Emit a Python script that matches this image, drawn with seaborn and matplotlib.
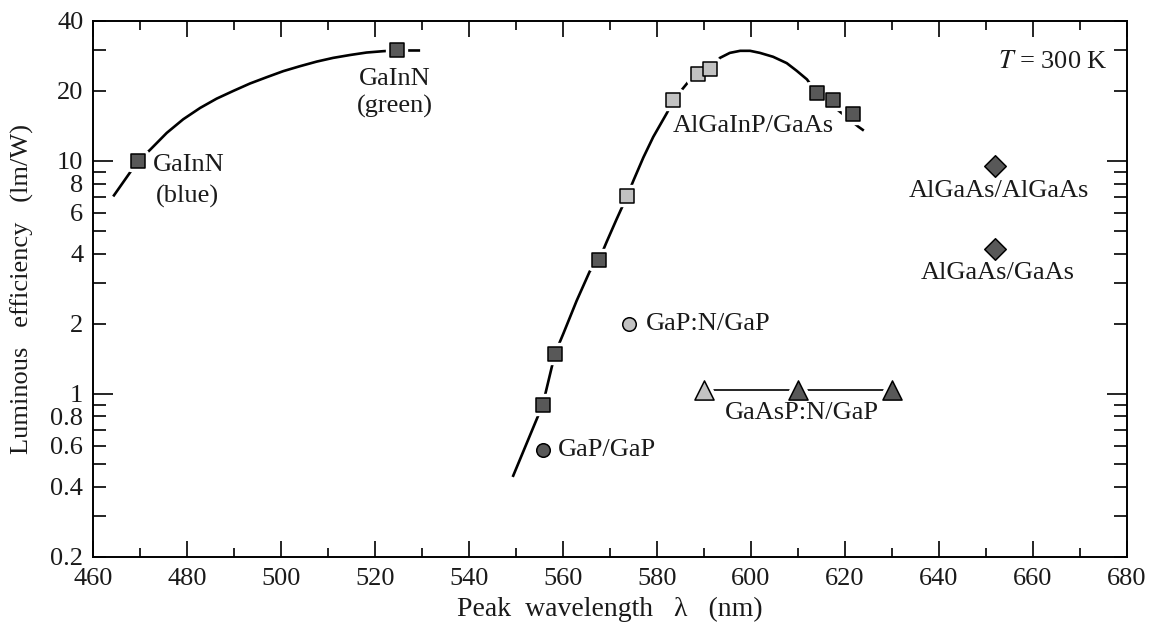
import matplotlib
matplotlib.use("Agg")
import matplotlib.pyplot as plt
import seaborn as sns
from matplotlib.ticker import FixedLocator, FixedFormatter, MultipleLocator

# ---------------- data ----------------
gainn_curve_x = [464.3, 469.6, 472.1, 475.7, 479.2, 482.8, 486.3, 489.9, 493.4, 497.0,
                 500.5, 504.0, 507.6, 511.1, 514.7, 518.2, 521.8, 524.6, 529.6]
gainn_curve_y = [7.04, 10.0, 11.14, 13.2, 15.1, 16.89, 18.51, 20.0, 21.5, 22.9,
                 24.3, 25.5, 26.7, 27.7, 28.5, 29.2, 29.6, 29.8, 29.8]

main_curve_x = [549.3, 555.7, 558.3, 560.1, 562.9, 565.7, 567.7, 569.3, 571.4,
                573.6, 575.0, 577.1, 579.2, 582.1, 583.5, 586.7, 588.7, 591.3, 593.4,
                595.5, 597.7, 599.8, 601.9, 604.7, 607.6, 609.7, 611.9, 614.0, 622.9,
                624.0]
main_curve_y = [0.44, 0.90, 1.49, 1.82, 2.51, 3.36, 3.77, 4.5, 5.62,
                7.04, 8.25, 10.35, 12.68, 16.05, 18.26, 21.9, 23.7, 24.8, 27.7,
                29.1, 29.7, 29.7, 29.1, 28.0, 26.3, 24.4, 22.4, 19.6, 14.0,
                13.5]

sq_dark_x = [469.6, 524.6, 555.7, 558.3, 567.7, 614.0, 617.4, 621.6]
sq_dark_y = [10.0, 29.8, 0.90, 1.49, 3.77, 19.6, 18.3, 15.9]
sq_light_x = [573.6, 583.5, 588.7, 591.3]
sq_light_y = [7.04, 18.26, 23.7, 24.8]

circ_light_x = [574.0]
circ_light_y = [2.0]
circ_dark_x = [555.7]
circ_dark_y = [0.575]

tri_x = [590, 610, 630]
tri_y = [1.04, 1.04, 1.04]
tri_shade = ["light", "dark", "dark"]

diam_x = [652, 652]
diam_y = [9.5, 4.2]

labels = ["GaInN", "(blue)", "GaInN", "(green)", "AlGaInP/GaAs", "GaP:N/GaP",
          "GaP/GaP", "GaAsP:N/GaP", "AlGaAs/AlGaAs", "AlGaAs/GaAs"]
label_x = [472.8, 480.1, 524.3, 524.3, 600.4, 577.7, 558.9, 610.8, 652.7, 652.5]
label_y = [9.6, 7.04, 22.5, 17.1, 14.1, 2.0, 0.575, 0.828, 7.4, 3.3]
label_ha = ["left", "center", "center", "center", "center", "left", "left",
            "center", "center", "center"]

x_ticks = [460, 480, 500, 520, 540, 560, 580, 600, 620, 640, 660, 680]
y_label_ticks = [0.2, 0.4, 0.6, 0.8, 2, 4, 6, 8, 20, 40]
y_label_text = ["0.2", "0.4", "0.6", "0.8", "2", "4", "6", "8", "20", "40"]
y_minor_unlabeled = [0.3, 0.5, 0.7, 0.9, 3, 5, 7, 9, 30]
y_decades = [1, 10]

DARK = "#585858"
LIGHT = "#c2c2c2"
TXT = "#1a1a1a"

# ---------------- style ----------------
sns.set_theme(style="ticks")
plt.rcParams["font.family"] = ["Liberation Serif", "DejaVu Serif"]
plt.rcParams["mathtext.fontset"] = "stix"
plt.rcParams["axes.linewidth"] = 1.4

fig = plt.figure(figsize=(11.51, 6.26), dpi=100)
ax = fig.add_axes([93 / 1151, 1 - 556.7 / 626, (1127 - 93) / 1151, (556.7 - 20.7) / 626])
ax.set_facecolor("white")
fig.patch.set_facecolor("white")

ax.set_yscale("log")
ax.set_xlim(460, 680)
ax.set_ylim(0.2, 40)

LW = 1.9
for cx, cy, lw in [(gainn_curve_x, gainn_curve_y, LW), (main_curve_x, main_curve_y, LW),
                   (tri_x, tri_y, 1.2)]:
    sns.lineplot(x=cx, y=cy, ax=ax, color="black", lw=lw, sort=False,
                 estimator=None, zorder=2, solid_joinstyle="round", solid_capstyle="butt")

SQ = 115
CI = 95
TR = 190
DI = 120
groups = [
    (sq_dark_x, sq_dark_y, "s", SQ, [DARK] * len(sq_dark_x)),
    (sq_light_x, sq_light_y, "s", SQ, [LIGHT] * len(sq_light_x)),
    (circ_light_x, circ_light_y, "o", CI, [LIGHT]),
    (circ_dark_x, circ_dark_y, "o", CI, [DARK]),
    (tri_x, tri_y, "^", TR, [LIGHT if s == "light" else DARK for s in tri_shade]),
    (diam_x, diam_y, "D", DI, [DARK] * len(diam_x)),
]
# white halos so lines stop short of the markers
for gx, gy, m, s, cols in groups:
    sns.scatterplot(x=gx, y=gy, ax=ax, marker=m, s=s, color="white",
                    edgecolor="white", linewidth=6, zorder=3, legend=False)
for gx, gy, m, s, cols in groups:
    for xi, yi, c in zip(gx, gy, cols):
        sns.scatterplot(x=[xi], y=[yi], ax=ax, marker=m, s=s, color=c,
                        edgecolor="black", linewidth=1.1, zorder=4, legend=False)

for t, lx, ly, ha in zip(labels, label_x, label_y, label_ha):
    ax.text(lx, ly, t, ha=ha, va="center", fontsize=19, color=TXT, zorder=5)
ax.text(675.8, 26.5, "$T$ = 300 K", ha="right", va="center", fontsize=19, color=TXT)

# ticks
ax.xaxis.set_major_locator(FixedLocator(x_ticks))
ax.xaxis.set_major_formatter(FixedFormatter([str(v) for v in x_ticks]))
ax.xaxis.set_minor_locator(MultipleLocator(10))
ax.yaxis.set_major_locator(FixedLocator(y_decades))
ax.yaxis.set_major_formatter(FixedFormatter(["1", "10"]))
minor_pos = sorted(y_label_ticks + y_minor_unlabeled)
minor_txt = [y_label_text[y_label_ticks.index(v)] if v in y_label_ticks else "" for v in minor_pos]
ax.yaxis.set_minor_locator(FixedLocator(minor_pos))
ax.yaxis.set_minor_formatter(FixedFormatter(minor_txt))

ax.tick_params(which="both", direction="in", top=True, right=True, color="black",
               labelsize=19, labelcolor=TXT, width=1.2)
ax.tick_params(axis="x", which="major", length=11.5, pad=8)
ax.tick_params(axis="x", which="minor", length=6.5)
ax.tick_params(axis="y", which="major", length=14.5, pad=7)
ax.tick_params(axis="y", which="minor", length=9.5, pad=7, labelsize=19)

for sp in ax.spines.values():
    sp.set_color("black")
    sp.set_linewidth(1.4)

ax.set_xlabel("Peak  wavelength   λ   (nm)", fontsize=20, color=TXT)
ax.set_ylabel("Luminous   efficiency   (lm/W)", fontsize=19, color=TXT)
ax.xaxis.set_label_coords(0.5, -0.074)
ax.yaxis.set_label_coords(-0.057, 0.5)

fig.savefig("out.png", dpi=100, facecolor="white")
